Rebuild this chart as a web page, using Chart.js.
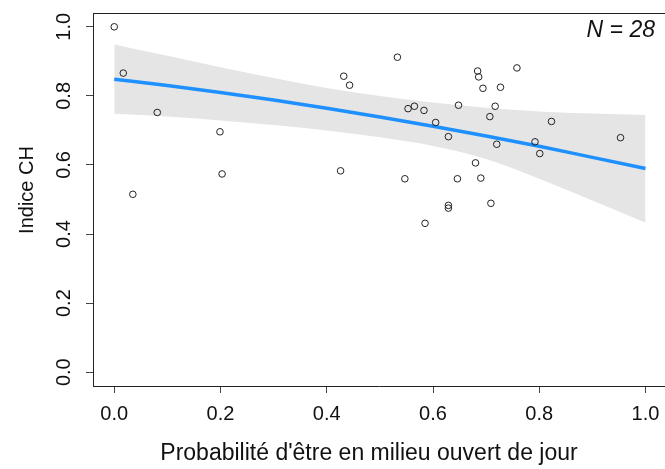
<!DOCTYPE html>
<html>
<head>
<meta charset="utf-8">
<script src="https://cdn.jsdelivr.net/npm/chart.js@4.4.1/dist/chart.umd.min.js"></script>
<style>
  body { margin: 0; background: #fff; }
  canvas { display: block; }
</style>
</head>
<body>
<canvas id="chart" width="665" height="469"></canvas>
<script>
// observed points (probability open habitat by day, CH index)
const probJour = [0.000, 0.017, 0.081, 0.199, 0.203, 0.035, 0.432, 0.443, 0.426,
  0.533, 0.684, 0.686, 0.758, 0.694, 0.727, 0.553, 0.565, 0.583, 0.648, 0.717,
  0.605, 0.707, 0.629, 0.720, 0.823, 0.792, 0.801, 0.953, 0.680, 0.547, 0.646,
  0.690, 0.629, 0.629, 0.709, 0.585]
const indiceCH = [1.000, 0.866, 0.752, 0.696, 0.574, 0.515, 0.857, 0.831, 0.583,
  0.912, 0.872, 0.855, 0.881, 0.822, 0.825, 0.763, 0.770, 0.758, 0.773, 0.770,
  0.723, 0.740, 0.682, 0.660, 0.726, 0.667, 0.633, 0.679, 0.606, 0.560, 0.560,
  0.562, 0.483, 0.475, 0.489, 0.431]

// fitted curve and confidence band, read at these x positions
const fitX = [0, 0.1, 0.2, 0.3, 0.4, 0.5, 0.6, 0.7, 0.8, 0.9, 1.0]
const fitY = [0.848, 0.830, 0.810, 0.788, 0.764, 0.739, 0.712, 0.684, 0.654, 0.622, 0.590]
const bandHigh = [0.949, 0.916, 0.883, 0.852, 0.823, 0.800, 0.781, 0.766, 0.755, 0.749, 0.745]
const bandLow = [0.748, 0.740, 0.729, 0.716, 0.700, 0.680, 0.655, 0.617, 0.560, 0.497, 0.433]

const xTicks = [0, 0.2, 0.4, 0.6, 0.8, 1.0]
const yTicks = [0, 0.2, 0.4, 0.6, 0.8, 1.0]

const FONT = 'Liberation Sans, Arial, sans-serif'
const pts = (xs, ys) => xs.map((x, i) => ({ x: x, y: ys[i] }))

const textPlugin = {
  id: 'rtext',
  afterDraw (chart) {
    const ctx = chart.ctx
    const area = chart.chartArea
    const y = chart.scales.y
    ctx.save()
    // top frame line
    ctx.strokeStyle = '#222'
    ctx.lineWidth = 1
    ctx.beginPath()
    ctx.moveTo(area.left, area.top + 0.5)
    ctx.lineTo(area.right, area.top + 0.5)
    ctx.stroke()

    ctx.fillStyle = '#111'
    ctx.font = '20px ' + FONT
    ctx.textAlign = 'center'
    ctx.textBaseline = 'alphabetic'
    // rotated y tick labels
    yTicks.forEach(v => {
      ctx.save()
      ctx.translate(70, y.getPixelForValue(v))
      ctx.rotate(-Math.PI / 2)
      ctx.fillText(v.toFixed(1), 0, 0)
      ctx.restore()
    })
    // y title
    ctx.save()
    ctx.translate(33, 190)
    ctx.rotate(-Math.PI / 2)
    ctx.fillText('Indice CH', 0, 0)
    ctx.restore()
    // x title
    ctx.font = '23px ' + FONT
    ctx.fillText("Probabilité d'être en milieu ouvert de jour", 369, 460)
    // sample size
    ctx.font = 'italic 23px ' + FONT
    ctx.textAlign = 'right'
    ctx.fillText('N = 28', 655, 37)
    ctx.restore()
  }
}

new Chart(document.getElementById('chart').getContext('2d'), {
  type: 'scatter',
  data: {
    datasets: [
      {
        label: 'points',
        data: pts(probJour, indiceCH),
        pointRadius: 3.3,
        pointBorderWidth: 1,
        pointBorderColor: '#222',
        pointBackgroundColor: 'rgba(0,0,0,0)'
      }, {
        label: 'fit',
        type: 'line',
        data: pts(fitX, fitY),
        borderColor: '#1E90FF',
        borderWidth: 3.5,
        pointRadius: 0,
        cubicInterpolationMode: 'monotone',
        fill: false
      }, {
        label: 'high',
        type: 'line',
        data: pts(fitX, bandHigh),
        borderWidth: 0,
        borderColor: 'rgba(0,0,0,0)',
        backgroundColor: '#E5E5E5',
        pointRadius: 0,
        cubicInterpolationMode: 'monotone',
        fill: '+1'
      }, {
        label: 'low',
        type: 'line',
        data: pts(fitX, bandLow),
        borderWidth: 0,
        borderColor: 'rgba(0,0,0,0)',
        pointRadius: 0,
        cubicInterpolationMode: 'monotone',
        fill: false
      }
    ]
  },
  options: {
    responsive: false,
    animation: false,
    devicePixelRatio: 1,
    layout: { autoPadding: false, padding: { top: 13, left: 0, right: 0, bottom: 0 } },
    plugins: {
      legend: { display: false },
      tooltip: { enabled: false }
    },
    scales: {
      x: {
        type: 'linear',
        min: -0.04,
        max: 1.0367,
        afterBuildTicks: s => { s.ticks = xTicks.map(v => ({ value: v })) },
        afterFit: s => {
          s.height = 83
          s.paddingLeft = 0
          s.paddingRight = 0
        },
        grid: { drawOnChartArea: false, drawTicks: true, tickLength: 7, color: '#444' },
        border: { display: true, color: '#222', width: 1 },
        ticks: {
          font: { family: FONT, size: 20 },
          color: '#111',
          padding: 9,
          maxRotation: 0,
          callback: v => v.toFixed(1)
        }
      },
      y: {
        type: 'linear',
        min: -0.04,
        max: 1.04,
        afterBuildTicks: s => { s.ticks = yTicks.map(v => ({ value: v })) },
        afterFit: s => {
          s.width = 93
          s.paddingTop = 0
          s.paddingBottom = 0
        },
        grid: { drawOnChartArea: false, drawTicks: true, tickLength: 7, color: '#444' },
        border: { display: true, color: '#222', width: 1 },
        ticks: { color: 'rgba(0,0,0,0)', font: { size: 20 } }
      }
    }
  },
  plugins: [textPlugin]
})
</script>
</body>
</html>
